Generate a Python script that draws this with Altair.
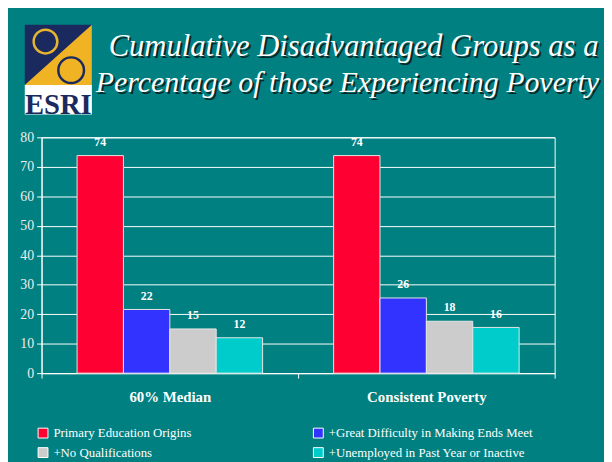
import altair as alt
import pandas as pd

groups = ["60% Median", "Consistent Poverty"]
series = [
    "Primary Education Origins",
    "+Great Difficulty in Making Ends Meet",
    "+No Qualifications",
    "+Unemployed in Past Year or Inactive",
]
median_vals = [73.8, 21.6, 15.0, 12.0]
consistent_vals = [73.8, 25.5, 17.6, 15.5]
colors = ["#FF0033", "#3333FF", "#CCCCCC", "#00CCCC"]
y_ticks = [0, 10, 20, 30, 40, 50, 60, 70, 80]
title_lines = [
    "Cumulative Disadvantaged Groups as a",
    "Percentage of those Experiencing Poverty",
]
logo_text = ["ESRI"]

TEAL = "#008080"
SERIF = "'Liberation Serif', 'Times New Roman', 'DejaVu Serif', serif"

rows = []
for g, vals in zip(groups, [median_vals, consistent_vals]):
    for s, v in zip(series, vals):
        rows.append({"group": g, "series": s, "value": v})
df = pd.DataFrame(rows)

x_enc = alt.X(
    "group:N",
    sort=groups,
    scale=alt.Scale(paddingInner=0, paddingOuter=0),
    axis=alt.Axis(
        title=None, labelAngle=0, labelFont=SERIF, labelFontSize=15,
        labelFontWeight="bold", labelColor="white", labelPadding=12,
        tickBand="extent", tickColor="white", tickSize=5,
        domainColor="white", grid=False,
    ),
)
xo_enc = alt.XOffset(
    "series:N", sort=series,
    scale=alt.Scale(paddingInner=0, paddingOuter=0.766),
)
y_enc = alt.Y(
    "value:Q",
    scale=alt.Scale(domain=[0, 80], nice=False),
    axis=alt.Axis(
        values=y_ticks, title=None, grid=True, gridColor="white",
        gridWidth=1, gridOpacity=1, tickColor="white", tickSize=5,
        domainColor="white", labelColor="#EEEEEE", labelFont=SERIF,
        labelFontSize=14, labelPadding=3, labelOverlap=False,
    ),
)

bars = alt.Chart(df).mark_bar(stroke="#E6E6E6", strokeWidth=1).encode(
    x=x_enc,
    xOffset=xo_enc,
    y=y_enc,
    color=alt.Color(
        "series:N", sort=series,
        scale=alt.Scale(domain=series, range=colors),
        legend=alt.Legend(
            title=None, orient="none", legendX=-5, legendY=293,
            columns=2, columnPadding=120, rowPadding=5,
            symbolType="square", symbolSize=100,
            symbolStrokeColor="white", symbolStrokeWidth=1,
            labelFont=SERIF, labelFontSize=13, labelColor="white",
            labelLimit=400, direction="horizontal",
        ),
    ),
)

labels = alt.Chart(df).mark_text(
    dy=-7, baseline="bottom", font=SERIF, fontWeight="bold",
    fontSize=12, color="white",
).encode(
    x=x_enc, xOffset=xo_enc, y=y_enc,
    text=alt.Text("value:Q", format=".0f"),
)

# plot origin is page (42, 136)
def title_layer(text, px, py, size, color, opacity=1.0, dx=0, dy=0):
    return alt.Chart(pd.DataFrame({"t": [text]})).mark_text(
        align="left", baseline="alphabetic", font=SERIF, fontStyle="italic",
        fontSize=size, color=color, opacity=opacity, dx=dx, dy=dy,
    ).encode(x=alt.value(px - 42), y=alt.value(py - 136), text="t:N")

title_layers = []
for line, (px, py, sz) in zip(title_lines, [(110, 54, 31), (97, 90, 30.3)]):
    title_layers.append(title_layer(line, px, py, sz, "#0A1A1A", 0.85, 2, 2))
    title_layers.append(title_layer(line, px, py, sz, "white"))

one = pd.DataFrame({"t": logo_text})

logo_bg = alt.Chart(one).mark_rect(color="#1B2A5E").encode(
    x=alt.value(25 - 42), x2=alt.value(93 - 42),
    y=alt.value(22 - 136), y2=alt.value(83 - 136),
)
logo_tri = alt.Chart(one).mark_point(
    shape="M1,-0.9 L1,0.9 L-1,0.9 Z", filled=True, color="#F0B323",
    size=68 * 68, opacity=1, strokeWidth=0,
).encode(x=alt.value(59 - 42), y=alt.value(52.5 - 136))
ring1 = alt.Chart(one).mark_point(
    shape="circle", filled=False, color="#E8B530", strokeWidth=2.5,
    size=24 * 24, opacity=1,
).encode(x=alt.value(46 - 42), y=alt.value(39 - 136))
ring2 = alt.Chart(one).mark_point(
    shape="circle", filled=False, color="#1B2A5E", strokeWidth=2.5,
    size=26 * 26, opacity=1,
).encode(x=alt.value(72 - 42), y=alt.value(68 - 136))
logo_white = alt.Chart(one).mark_rect(color="white").encode(
    x=alt.value(25 - 42), x2=alt.value(93 - 42),
    y=alt.value(83 - 136), y2=alt.value(113 - 136),
)
logo_word = alt.Chart(one).mark_text(
    font=SERIF, fontWeight="bold", fontSize=29, color="#1B2A5E",
    align="center", baseline="alphabetic",
).encode(x=alt.value(59 - 42), y=alt.value(112 - 136), text="t:N")

chart = alt.layer(
    bars, labels, logo_bg, logo_tri, ring1, ring2, logo_white, logo_word,
    *title_layers,
).properties(
    width=520, height=239,
    autosize=alt.AutoSizeParams(type="none"),
    padding={"left": 34, "top": 128, "right": 50, "bottom": 87},
    background=TEAL,
).configure_view(stroke="white", strokeWidth=1)

chart.save("out.html", embed_options={"renderer": "svg", "actions": False})
